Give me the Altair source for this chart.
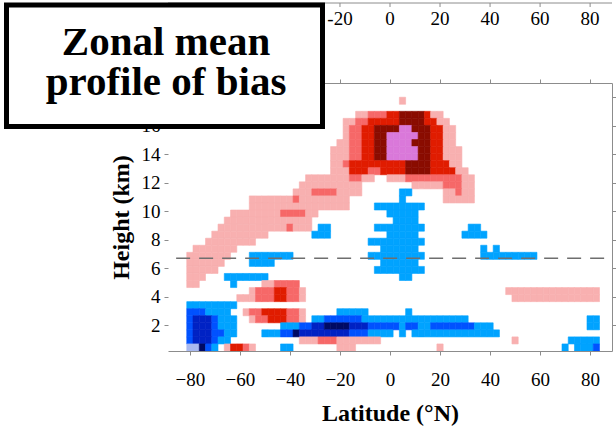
import altair as alt
import pandas as pd

# ---- grid definition (latitude columns of 2.5 deg, height rows) ----
LAT_FIRST = -87.5      # centre of column 0
LAT_STEP = 2.5
H_FIRST = 0.2          # bottom of row 0 (km)
H_STEP = 0.4945        # row thickness (km)

# bias classes -> colours
CLASSES = ["p", "s", "r", "d", "v", "l", "b", "m", "n", "k"]
COLOURS = ["#F8B0B0", "#F66868", "#E01C00", "#8A0C00", "#DA78DA",
           "#A9B9F0", "#00A3FF", "#0052FF", "#0022C4", "#000A64"]

# cells per row: "a-bX" = columns a..b of class X
ROWS = {
    35: "37p",
    33: "30-31p 32-34s 35-36r 37-40d 41r 42-43p",
    32: "28-29p 30-31s 32-36r 37-40d 41-42r 43-44p",
    31: "28p 29-30s 31-32r 33-36d 37-38v 39-41d 42-43r 44-45p",
    30: "28p 29-30s 31-32r 33-34d 35-39v 40-41d 42-43r 44-45p",
    29: "27-28p 29-30s 31-32r 33-34d 35-38v 39-41d 42-43r 44-45p",
    28: "26-28p 29-30s 31-32r 33-34d 35-39v 40-41d 42-43r 44-46p",
    27: "26-28p 29-30s 31-32r 33-34d 35-39v 40-41d 42-43r 44-46p",
    26: "26-27p 28s 29-37r 38-41d 42-44r 45-46p",
    25: "26-28p 29-31r 32-33s 34-37r 38-41d 42-45r 46-47p",
    24: "22-28p 29-30s 31-32p 35-37p 38-46s 47-48p",
    23: "21-30p 39-43p 44-46s 47-48p",
    22: "20-22p 23-26s 27-30p 37-38b 44-45p 46s 47-48p",
    21: "13-19p 20s 21-28p 37b 44-48p",
    20: "13-28p 33-40b",
    19: "10-17p 18-21s 22-23p 35-39b",
    18: "9-22p 36-39b",
    17: "8-18p 19s 20-22p 24-25b 33-40b 48-49b",
    16: "7-15p 23-25b 35-39b 47-50b",
    15: "6-13p 32-40b",
    14: "4-10p 34-39b 50b 52b",
    13: "3-9p 13-19b 32-40b 50-58b",
    12: "3-8p 13-16b 34-39b",
    11: "3-7p 33-40b",
    10: "3-5p 9-15b 37-38b",
    9: "3-4p 10b 15-16p 17-19s 20s",
    8: "13p 14-16s 17-18r 19-20s 21p 54-68p",
    7: "11-13p 14-16s 17-18r 19-20s 21p 55-68p",
    6: "3-10b",
    5: "3-5m 6-9b 12p 13-14s 15-18r 19-20s 21p 27-31b 38b",
    4: "3m 4-6n 7m 8-10b 13p 14-15s 16-18r 19-20s 21p 23-24b 25-30m 31-47b 67-68b",
    3: "3m 4-6n 7m 8-10b 18-20b 21-22m 23-24n 25-28k 29-31n 32-36m 37b 38-39m 40-41b 42-48m 49-51b 67-68b",
    2: "3m 4-6n 7-8m 9-10b 15-17b 18-19m 20k 21-28n 29-31m 32-35b 37b 39-52b",
    1: "3m 4-6n 7m 8-9b 21-23p 24-26s 27-33p 55p 64-68b",
    0: "3-4l 5k 6m 7b 9p 10-11r 12s 13p 18-19b 27-29p 43p 63b 65-67b 68m",
}

X_TICKS = [-80, -60, -40, -20, 0, 20, 40, 60, 80]
Y_LABELLED = [2, 4, 6, 8, 10, 12, 14, 16]
Y_TICKS = [2, 4, 6, 8, 10, 12, 14, 16, 18]
UPPER_TICKS = [-20, 0, 20, 40, 60, 80]
TROPOPAUSE_KM = 6.7
DASH_LAT = [-85.5, 88.75]
X_DOMAIN = [-88.75, 88.75]
Y_DOMAIN = [0.2, 19.0]
TITLE_LINES = ["Zonal mean", "profile of bias"]

cells = {}
for r, spec in ROWS.items():
    for tok in spec.split():
        code, rng = tok[-1], tok[:-1]
        a, b = (int(v) for v in rng.split("-")) if "-" in rng else (int(rng), int(rng))
        for c in range(a, b + 1):
            cells[(r, c)] = code
recs = []
for (r, c), code in cells.items():
    lat = LAT_FIRST + LAT_STEP * c
    recs.append({"lat0": lat - LAT_STEP / 2, "lat1": lat + LAT_STEP / 2,
                 "h0": H_FIRST + H_STEP * r, "h1": H_FIRST + H_STEP * (r + 1),
                 "cls": code})
df = pd.DataFrame(recs)

FONT = "Liberation Serif"
FRAME = "#8c8c8c"
xs = alt.Scale(domain=X_DOMAIN, nice=False, zero=False)
ys = alt.Scale(domain=Y_DOMAIN, nice=False, zero=False)
cs = alt.Scale(domain=CLASSES, range=COLOURS)

heat = alt.Chart(df).mark_rect(strokeWidth=0.6).encode(
    x=alt.X("lat0:Q", scale=xs, axis=alt.Axis(
        orient="bottom", values=X_TICKS, title="Latitude (°N)", zindex=1, grid=False,
        domainColor=FRAME, tickColor=FRAME, tickSize=4, labelFont=FONT,
        labelFontSize=19, labelColor="black", labelPadding=15, labelFlush=False,
        titleFont=FONT, titleFontSize=24, titleFontWeight="bold", titleColor="black",
        titlePadding=12)),
    x2="lat1:Q",
    y=alt.Y("h0:Q", scale=ys, axis=alt.Axis(
        orient="left", values=Y_LABELLED, title="Height (km)", zindex=0, grid=False,
        domain=False, tickColor=FRAME, tickSize=4, labelFont=FONT,
        labelFontSize=19, labelColor="black", labelPadding=4, labelFlush=False,
        titleFont=FONT, titleFontSize=24, titleFontWeight="bold", titleColor="black",
        titlePadding=8)),
    y2="h1:Q",
    color=alt.Color("cls:N", scale=cs, legend=None),
    stroke=alt.Stroke("cls:N", scale=cs, legend=None),
)

dash_df = pd.DataFrame({"x0": [DASH_LAT[0]], "x1": [DASH_LAT[1]], "y": [TROPOPAUSE_KM]})
dash = alt.Chart(dash_df).mark_rule(color="#6e6e6e", strokeWidth=1.5, strokeDash=[14, 9]).encode(
    x=alt.X("x0:Q", scale=xs, axis=alt.Axis(
        orient="top", values=X_TICKS, labels=False, title=None, zindex=0, grid=False,
        domainColor=FRAME, tickColor=FRAME, tickSize=4)),
    x2="x1:Q",
    y=alt.Y("y:Q", scale=ys, axis=alt.Axis(
        orient="right", values=Y_TICKS, labels=False, title=None, zindex=1, grid=False,
        domainColor=FRAME, tickColor=FRAME, tickSize=4)),
)

up_df = pd.DataFrame({"lat": UPPER_TICKS, "lab": [str(v) for v in UPPER_TICKS]})
upper_line = alt.Chart(up_df.head(1)).mark_rule(color=FRAME, strokeWidth=1).encode(
    x=alt.value(0), x2=alt.value(444), y=alt.value(-80))
upper_ticks = alt.Chart(up_df).mark_rule(color=FRAME, strokeWidth=1).encode(
    x=alt.X("lat:Q", scale=xs, axis=None), y=alt.value(-80), y2=alt.value(-76))
upper_labels = alt.Chart(up_df).mark_text(font=FONT, fontSize=19, color="black",
                                          baseline="middle", align="center").encode(
    x=alt.X("lat:Q", scale=xs, axis=None), y=alt.value(-64), text="lab:N")

box = alt.Chart(up_df.head(1)).mark_rect(fill="white", stroke="black", strokeWidth=5).encode(
    x=alt.value(-161.5), x2=alt.value(154.5), y=alt.value(-78), y2=alt.value(43.5))
title_txt = alt.Chart(up_df.head(1)).mark_text(
    font=FONT, fontSize=41, fontWeight="bold", color="black", align="center",
    baseline="alphabetic", lineHeight=40).encode(
    x=alt.value(-2), y=alt.value(-28), text=alt.value(TITLE_LINES))

chart = alt.layer(heat, dash, upper_line, upper_ticks, upper_labels, box, title_txt).resolve_axis(
    x="independent", y="independent"
).properties(
    width=444, height=268,
    padding={"left": 168, "top": 83, "right": 4, "bottom": 75},
    autosize=alt.AutoSizeParams(type="none"),
).configure_view(stroke="transparent")

chart.save("out.html", embed_options={"renderer": "svg", "actions": False})
